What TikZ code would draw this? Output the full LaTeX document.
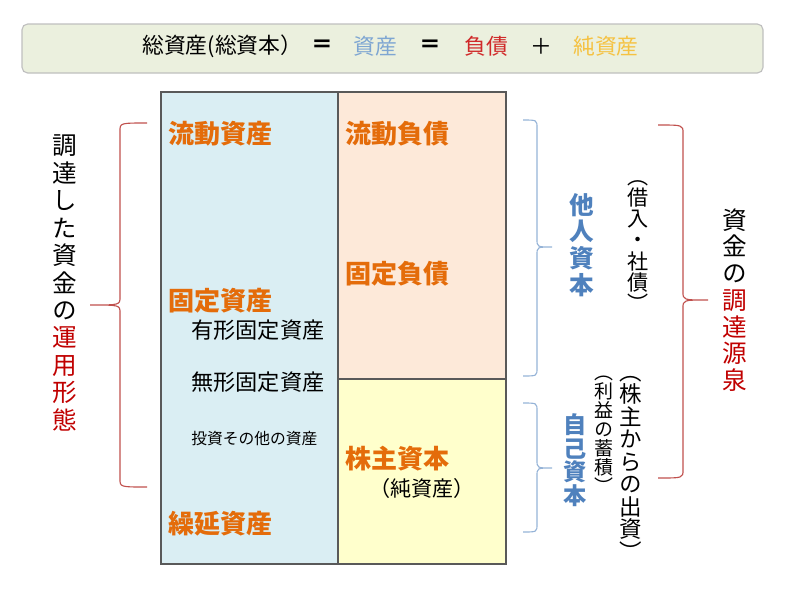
\documentclass[tikz,border=0pt]{standalone}
\usepackage{fontspec}
\setmainfont{Noto Sans CJK JP}
\newfontfamily\tatefont[RawFeature=+vert]{Noto Sans CJK JP}

\definecolor{barfill}{HTML}{EBF0DE}
\definecolor{barline}{HTML}{BFBFBF}
\definecolor{assetbg}{HTML}{DAEEF3}
\definecolor{debtbg}{HTML}{FDE9D9}
\definecolor{equitybg}{HTML}{FFFFCC}
\definecolor{itemorange}{HTML}{E46C0A}
\definecolor{capblue}{HTML}{4F81BD}
\definecolor{bracegray}{HTML}{95B3D7}
\definecolor{bracered}{HTML}{C0504D}
\definecolor{darkred}{HTML}{C00000}
\definecolor{assetblue}{HTML}{7EA6D2}
\definecolor{debtred}{HTML}{D02A2A}
\definecolor{netgold}{HTML}{F5C242}

% one character per line, for vertical text
\ExplSyntaxOn
\NewDocumentCommand \tatechars { m }
  { \tl_map_inline:nn {#1} { \hbox_to_wd:nn {1em} { \hss ##1 \hss } } }
\ExplSyntaxOff
\newcommand{\tatebox}[2]{\vbox{\baselineskip=#1\relax\lineskiplimit=-100pt #2}}

% end x, line x, tip x, top y, tip y, bottom y
\newcommand{\bracepath}[6]{(#1,#4) .. controls (#2,#4) .. (#2,{#4+8}) -- (#2,{#5-8})
  .. controls (#2,#5) .. (#3,#5) .. controls (#2,#5) .. (#2,{#5+8})
  -- (#2,{#6-8}) .. controls (#2,#6) .. (#1,#6)}

\tikzset{
  eqtext/.style={inner sep=0pt, font=\fontsize{15.5}{18}\selectfont},
  item/.style={anchor=west, inner sep=0pt, text=itemorange,
    font=\bfseries\fontsize{18.5}{20}\selectfont},
  subitem/.style={anchor=west, inner sep=0pt, font=\fontsize{15.8}{18}\selectfont},
  tate/.style={inner sep=0pt, font=\tatefont\fontsize{17.5}{19}\selectfont},
  captate/.style={tate, text=capblue, font=\tatefont\bfseries\fontsize{17.5}{19}\selectfont},
  redbrace/.style={draw=bracered, line width=0.8pt},
  bluebrace/.style={draw=bracegray, line width=0.8pt},
  grid/.style={draw=black!65, line width=0.9pt}
}

\begin{document}
\begin{tikzpicture}[x=0.025cm, y=-0.025cm]
  \useasboundingbox (0,0) rectangle (800,600);

  % equation bar
  \draw[fill=barfill, draw=barline, line width=0.8pt, rounded corners=4pt]
    (22,24) rectangle (763,73);
  \node[eqtext, anchor=west] (total) at (142,46) {総資産(総資本）};
  \node[eqtext, font=\bfseries\fontsize{15.5}{18}\selectfont] (eqa) at (322,46) {＝};
  \node[eqtext, text=assetblue] (shisan) at (375,46) {資産};
  \node[eqtext, font=\bfseries\fontsize{15.5}{18}\selectfont] (eqb) at (430,46) {＝};
  \node[eqtext, text=debtred] (fusai) at (486,46) {負債};
  \node[eqtext] (plus) at (541,46) {＋};
  \node[eqtext, text=netgold] (junshisanbar) at (606,46) {純資産};

  % balance sheet
  \fill[assetbg] (161,92) rectangle (338,564);
  \fill[debtbg] (338,92) rectangle (506,379);
  \fill[equitybg] (338,379) rectangle (506,564);
  \draw[grid] (161,92) rectangle (506,564)
    (338,92) -- (338,564)
    (338,379) -- (506,379);

  \node[item] (ryudoshisan) at (168,134) {流動資産};
  \node[item] (koteishisan) at (168,301) {固定資産};
  \node[subitem] (yukei) at (191,330) {有形固定資産};
  \node[subitem] (mukei) at (191,382) {無形固定資産};
  \node[subitem, font=\fontsize{11.2}{13}\selectfont] (toshi) at (191,439) {投資その他の資産};
  \node[item] (kuriensisan) at (168,524) {繰延資産};
  \node[item] (ryudofusai) at (345,134) {流動負債};
  \node[item] (koteifusai) at (345,274) {固定負債};
  \node[item] (kabunushi) at (345,459) {株主資本};
  \node[subitem, anchor=center, font=\fontsize{15}{18}\selectfont] (junshisan) at (422,488) {（純資産）};

  % left side
  \draw[redbrace] \bracepath{147}{120}{90}{123}{305}{487};
  \node[tate] (unyo) at (65,283)
    {\tatebox{19.5pt}{\tatechars{調達した資金の}\color{darkred}\tatechars{運用形態}}};

  % right side
  \draw[bluebrace] \bracepath{523}{537}{552}{120}{247}{376};
  \draw[bluebrace] \bracepath{523}{537}{552}{403}{468}{532};
  \node[captate] (tanin) at (582,245) {\tatebox{19pt}{\tatechars{他人資本}}};
  \node[captate, font=\tatefont\bfseries\fontsize{16.5}{17}\selectfont] (jiko) at (575,460)
    {\tatebox{16.8pt}{\tatechars{自己資本}}};
  \node[tate, font=\tatefont\fontsize{15}{15}\selectfont] (kariire) at (638,246)
    {\tatebox{15pt}{\tatechars{（借入・社債）}}};
  \node[tate, font=\tatefont\fontsize{13.5}{14}\selectfont] (rieki) at (604,435)
    {\tatebox{13.5pt}{\tatechars{（利益の蓄積）}}};
  \node[tate, font=\tatefont\fontsize{16}{16}\selectfont] (shusshi) at (631,468)
    {\tatebox{16pt}{\tatechars{（株主からの出資）}}};

  \draw[redbrace] \bracepath{658}{683}{708}{125}{300}{478};
  \node[tate] (chotatsu) at (735,300)
    {\tatebox{19pt}{\tatechars{資金の}\color{darkred}\tatechars{調達源泉}}};
\end{tikzpicture}
\end{document}
